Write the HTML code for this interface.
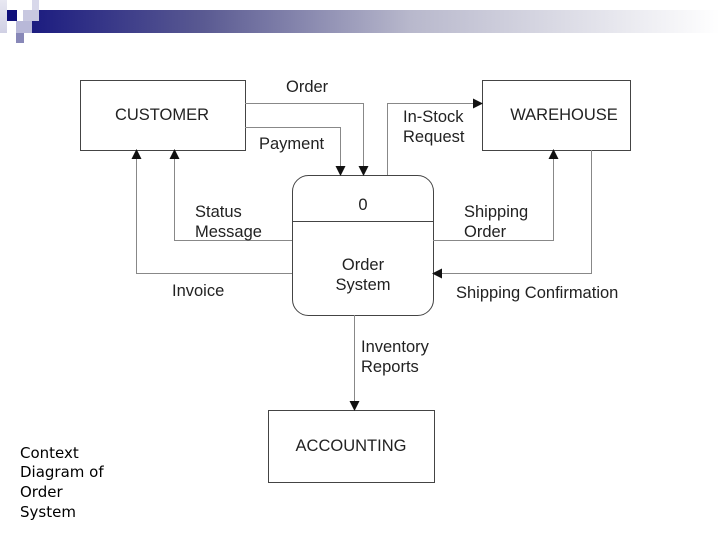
<!DOCTYPE html>
<html><head><style>
body{margin:0;width:720px;height:540px;background:#fff;position:relative;overflow:hidden;font-family:"Liberation Sans",sans-serif}
.sq{position:absolute}
</style></head><body>
<div class="sq" style="left:32px;top:10px;width:688px;height:23px;background:linear-gradient(to right,#1c1c80,#5a5a92 25%,#b8b8cc 55%,#fff 100%)"></div>
<div class="sq" style="left:0;top:0;width:7px;height:33px;background:linear-gradient(#e8e8f2,#d0d0e4)"></div>
<div class="sq" style="left:7px;top:10px;width:10px;height:11px;background:#10107a"></div>
<div class="sq" style="left:23px;top:10px;width:16px;height:11px;background:#c8c8e0"></div>
<div class="sq" style="left:32px;top:0;width:7px;height:10px;background:#d8d8ea"></div>
<div class="sq" style="left:16px;top:21px;width:16px;height:12px;background:#b8b8d8"></div>
<div class="sq" style="left:16px;top:33px;width:8px;height:10px;background:#8888b8"></div>
<svg width="720" height="540" style="position:absolute;left:0;top:0" font-family="Liberation Sans, sans-serif" font-size="16.5" fill="#222">
<defs><marker id="a" markerWidth="10" markerHeight="10" refX="9" refY="5" orient="auto" markerUnits="userSpaceOnUse"><path d="M0,0 L10,5 L0,10z" fill="#111"/></marker></defs>
<g fill="none" stroke="#444" stroke-width="1">
<rect x="80.5" y="80.5" width="165" height="70"/>
<rect x="482.5" y="80.5" width="148" height="70"/>
<rect x="292.5" y="175.5" width="141" height="140" rx="16"/>
<line x1="292" y1="221.5" x2="433" y2="221.5"/>
<rect x="268.5" y="410.5" width="166" height="72"/>
<g stroke="#888" marker-end="url(#a)">
<polyline points="245,103.5 363.5,103.5 363.5,175"/>
<polyline points="245,127.5 340.5,127.5 340.5,175"/>
<polyline points="387.5,175 387.5,103.5 482,103.5"/>
<polyline points="292,240.5 174.5,240.5 174.5,150"/>
<polyline points="292,273.5 136.5,273.5 136.5,150"/>
<polyline points="433,240.5 553.5,240.5 553.5,150"/>
<polyline points="591.5,150 591.5,273.5 433,273.5"/>
<polyline points="354.5,315 354.5,410"/>
</g></g>
<text x="162" y="120" text-anchor="middle">CUSTOMER</text>
<text x="564" y="120" text-anchor="middle">WAREHOUSE</text>
<text x="351" y="451" text-anchor="middle">ACCOUNTING</text>
<text x="363" y="210" text-anchor="middle">0</text>
<text x="363" y="270" text-anchor="middle">Order</text>
<text x="363" y="290" text-anchor="middle">System</text>
<text x="286" y="92">Order</text>
<text x="259" y="149">Payment</text>
<text x="403" y="122">In-Stock</text>
<text x="403" y="142">Request</text>
<text x="195" y="217">Status</text>
<text x="195" y="237">Message</text>
<text x="172" y="296">Invoice</text>
<text x="464" y="217">Shipping</text>
<text x="464" y="237">Order</text>
<text x="456" y="298">Shipping Confirmation</text>
<text x="361" y="352">Inventory</text>
<text x="361" y="372">Reports</text>
<g font-family="DejaVu Sans, sans-serif" font-size="15" fill="#000">
<text x="20" y="458">Context</text>
<text x="20" y="477">Diagram of</text>
<text x="20" y="497">Order</text>
<text x="20" y="517">System</text>
</g>
</svg>
</body></html>
